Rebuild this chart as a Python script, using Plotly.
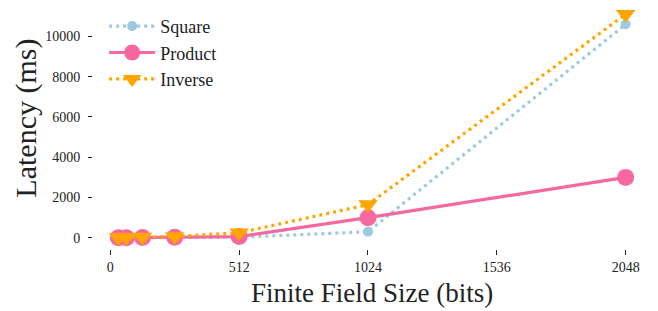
import plotly.graph_objects as go

field_bits = [32, 64, 128, 256, 512, 1024, 2048]
square_ms = [2, 4, 8, 15, 30, 300, 10600]
product_ms = [3, 6, 12, 25, 60, 1000, 3000]
inverse_ms = [20, 30, 45, 70, 250, 1650, 11100]

x_ticks = [0, 512, 1024, 1536, 2048]
y_ticks = [0, 2000, 4000, 6000, 8000, 10000]

FONT = "Liberation Serif, serif"
INK = "#222222"

fig = go.Figure()
fig.add_trace(go.Scatter(
    x=field_bits, y=square_ms, name="Square", mode="lines+markers",
    line=dict(color="#9ecae1", width=3.2, dash="3px,4px"),
    marker=dict(symbol="circle", size=10, color="#9ecae1"),
))
fig.add_trace(go.Scatter(
    x=field_bits, y=product_ms, name="Product", mode="lines+markers",
    line=dict(color="#f768a1", width=3.2),
    marker=dict(symbol="circle", size=17, color="#f768a1"),
))
fig.add_trace(go.Scatter(
    x=field_bits, y=inverse_ms, name="Inverse", mode="lines+markers",
    line=dict(color="#ffa500", width=3.2, dash="3px,4px"),
    marker=dict(symbol="triangle-down", size=17, color="#ffa500"),
))

fig.update_layout(
    width=658, height=311,
    margin=dict(l=93, r=7, t=3, b=62),
    paper_bgcolor="white", plot_bgcolor="white",
    font=dict(family=FONT, color=INK, size=14),
    showlegend=True,
    legend=dict(
        x=0.02, y=0.98, xanchor="left", yanchor="top",
        bgcolor="rgba(0,0,0,0)", font=dict(family=FONT, size=18, color=INK),
        itemwidth=46,
    ),
    xaxis=dict(
        range=[-68.8, 2148.8], tickvals=x_ticks, ticktext=[str(v) for v in x_ticks],
        showgrid=False, zeroline=False, showline=False, automargin=False,
        ticks="outside", ticklen=5, tickwidth=1, tickcolor=INK,
        tickfont=dict(family=FONT, size=14, color=INK),
    ),
    yaxis=dict(
        range=[-555, 11655], tickvals=y_ticks, ticktext=[str(v) for v in y_ticks],
        showgrid=False, zeroline=False, showline=False, automargin=False,
        ticks="outside", ticklen=4, tickwidth=1, tickcolor=INK, ticklabelstandoff=5,
        tickfont=dict(family=FONT, size=14, color=INK),
    ),
    annotations=[
        dict(text="Finite Field Size (bits)", xref="paper", yref="paper",
             x=0.5, y=-0.18, xanchor="center", yanchor="middle", showarrow=False,
             font=dict(family=FONT, size=27, color=INK)),
        dict(text="Latency (ms)", xref="paper", yref="paper", textangle=-90,
             x=-0.12, y=0.53, xanchor="center", yanchor="middle", showarrow=False,
             font=dict(family=FONT, size=30, color=INK)),
    ],
)

fig.write_html("out.html", config={"displayModeBar": False},
               post_script="document.body.style.margin='0px';")
